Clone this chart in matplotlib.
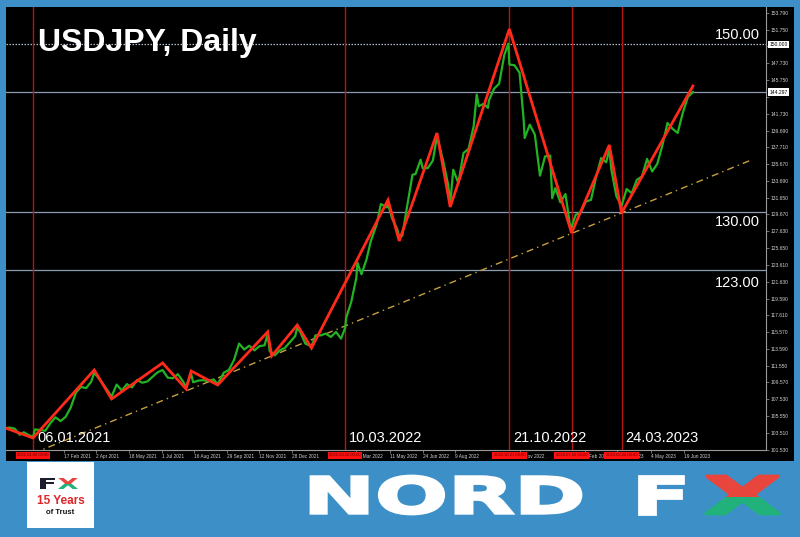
import numpy as np
import matplotlib
matplotlib.use('Agg')
import matplotlib.pyplot as plt
from matplotlib.patches import Rectangle, PathPatch
from matplotlib.textpath import TextPath
from matplotlib.font_manager import FontProperties
from matplotlib.transforms import Affine2D, blended_transform_factory

W, H = 800, 537
ORIGIN = '2021-01-06'

# weekly closes
price_dates = [
    '2020-11-27', '2020-12-04', '2020-12-11', '2020-12-18', '2020-12-24', '2020-12-31',
    '2021-01-06', '2021-01-08', '2021-01-15', '2021-01-22', '2021-01-29', '2021-02-05',
    '2021-02-12', '2021-02-19', '2021-02-26', '2021-03-05', '2021-03-12', '2021-03-19',
    '2021-03-26', '2021-03-31', '2021-04-09', '2021-04-16', '2021-04-23', '2021-04-30',
    '2021-05-07', '2021-05-14', '2021-05-21', '2021-05-28', '2021-06-04', '2021-06-11',
    '2021-06-18', '2021-06-25', '2021-07-02', '2021-07-09', '2021-07-16', '2021-07-23',
    '2021-07-30', '2021-08-04', '2021-08-11', '2021-08-13', '2021-08-20', '2021-08-27',
    '2021-09-03', '2021-09-10', '2021-09-16', '2021-09-24', '2021-10-01', '2021-10-08',
    '2021-10-15', '2021-10-22', '2021-10-29', '2021-11-05', '2021-11-12', '2021-11-19',
    '2021-11-24', '2021-11-26', '2021-11-30', '2021-12-03', '2021-12-10', '2021-12-17',
    '2021-12-24', '2021-12-31', '2022-01-04', '2022-01-07', '2022-01-14', '2022-01-24',
    '2022-01-28', '2022-02-04', '2022-02-11', '2022-02-18', '2022-02-25', '2022-03-04',
    '2022-03-10', '2022-03-11', '2022-03-18', '2022-03-25', '2022-03-28', '2022-04-01',
    '2022-04-08', '2022-04-14', '2022-04-22', '2022-04-28', '2022-05-06', '2022-05-09',
    '2022-05-13', '2022-05-20', '2022-05-24', '2022-05-27', '2022-06-03', '2022-06-10',
    '2022-06-15', '2022-06-22', '2022-06-24', '2022-07-01', '2022-07-08', '2022-07-14',
    '2022-07-22', '2022-07-29', '2022-08-02', '2022-08-05', '2022-08-12', '2022-08-19',
    '2022-08-26', '2022-09-02', '2022-09-07', '2022-09-09', '2022-09-16', '2022-09-22',
    '2022-09-23', '2022-09-30', '2022-10-07', '2022-10-14', '2022-10-20', '2022-10-21',
    '2022-10-28', '2022-11-04', '2022-11-10', '2022-11-11', '2022-11-18', '2022-11-25',
    '2022-12-02', '2022-12-09', '2022-12-16', '2022-12-20', '2022-12-23', '2022-12-30',
    '2023-01-06', '2023-01-13', '2023-01-16', '2023-01-20', '2023-01-27', '2023-02-03',
    '2023-02-10', '2023-02-17', '2023-02-24', '2023-03-03', '2023-03-08', '2023-03-10',
    '2023-03-17', '2023-03-24', '2023-03-31', '2023-04-07', '2023-04-14', '2023-04-21',
    '2023-04-28', '2023-05-05', '2023-05-12', '2023-05-19', '2023-05-26', '2023-06-02',
    '2023-06-09', '2023-06-16', '2023-06-23', '2023-06-30']
price_close = [
    104.08, 104.16, 104.04, 103.30, 103.60, 103.25,
    103.05, 103.94, 103.87, 103.78, 104.68, 105.39,
    104.94, 105.45, 106.57, 108.33, 109.03, 108.88,
    109.64, 110.72, 109.66, 108.79, 107.88, 109.31,
    108.59, 109.36, 108.96, 109.85, 109.53, 109.67,
    110.21, 110.76, 111.05, 110.14, 110.06, 110.55,
    109.69, 109.05, 110.60, 109.58, 109.78, 109.83,
    109.71, 109.93, 109.35, 110.73, 111.05, 112.24,
    114.21, 113.50, 113.95, 113.40, 113.90, 114.00,
    115.35, 113.30, 113.15, 112.80, 113.40, 113.70,
    114.40, 115.10, 116.10, 115.60, 114.20, 113.90,
    115.20, 115.20, 115.40, 115.00, 115.60, 114.80,
    116.10, 117.30, 119.20, 122.10, 123.90, 122.50,
    124.30, 126.40, 128.50, 130.90, 130.50, 130.90,
    129.20, 127.90, 127.00, 127.10, 130.80, 134.40,
    134.50, 136.20, 135.20, 135.20, 136.10, 139.00,
    136.10, 133.20, 131.00, 135.00, 133.40, 137.00,
    137.50, 140.20, 144.00, 142.60, 142.90, 142.40,
    143.30, 144.70, 145.30, 148.70, 150.10, 147.60,
    147.50, 146.60, 141.00, 138.80, 140.40, 139.20,
    134.30, 136.60, 136.70, 131.60, 132.80, 131.10,
    132.10, 127.90, 128.20, 129.60, 129.90, 131.20,
    131.40, 134.10, 136.40, 135.90, 137.50, 135.00,
    131.80, 130.70, 132.70, 132.20, 133.80, 134.20,
    136.30, 134.80, 135.70, 137.90, 140.60, 139.90,
    139.40, 141.80, 143.70, 144.30]

zig_dates = ['2020-11-30', '2021-01-06', '2021-03-31', '2021-04-23', '2021-07-02',
             '2021-08-04', '2021-08-11', '2021-09-16', '2021-11-24', '2021-11-30',
             '2022-01-04', '2022-01-24', '2022-05-09', '2022-05-24', '2022-07-14',
             '2022-08-02', '2022-10-21', '2023-01-16', '2023-03-08', '2023-03-24',
             '2023-06-30']
zig_prices = [104.11, 102.92, 111.05, 107.59, 111.89,
              108.78, 110.93, 109.26, 115.60, 112.73,
              116.43, 113.68, 131.39, 126.48, 139.40,
              130.55, 151.84, 127.44, 137.97, 129.83,
              145.02]

trend_anchor_dates = ['2021-11-30', '2023-03-24']
trend_anchor_prices = [112.73, 129.83]
trend_span = ['2021-01-06', '2023-09-20']

vline_dates = ['2021-01-06', '2022-03-10', '2022-10-21', '2023-01-16', '2023-03-24']
vline_labels = ['06.01.2021', '10.03.2022', '21.10.2022', None, '24.03.2023']

level_values = [150.0, 130.0, 123.0]
level_labels = ['150.00', '130.00', '123.00']
bid_price = 144.297

ytick_values = [101.53, 103.51, 105.55, 107.53, 109.57, 111.55, 113.59, 115.57,
                117.61, 119.59, 121.63, 123.61, 125.65, 127.63, 129.67, 131.65,
                133.69, 135.67, 137.71, 139.69, 141.73, 143.71, 145.75, 147.73,
                149.77, 151.75, 153.79]
xtick_dates = ['2021-02-17', '2021-04-02', '2021-05-18', '2021-07-01', '2021-08-16',
               '2021-09-29', '2021-11-12', '2021-12-28', '2022-03-25', '2022-05-11',
               '2022-06-24', '2022-08-09', '2022-11-04', '2023-02-02', '2023-03-20',
               '2023-05-04', '2023-06-19']
xtick_labels = ['17 Feb 2021', '2 Apr 2021', '18 May 2021', '1 Jul 2021', '16 Aug 2021',
                '29 Sep 2021', '12 Nov 2021', '28 Dec 2021', '25 Mar 2022', '11 May 2022',
                '24 Jun 2022', '9 Aug 2022', '4 Nov 2022', '2 Feb 2023', '20 Mar 2023',
                '4 May 2023', '19 Jun 2023']

BLUE = '#3c90c7'
GREEN = '#22b322'
RED = '#ff2a1a'
VRED = '#b81414'
LEVEL = '#8a9cb0'
AXIS = '#9a9a9a'

plt.rcParams['font.family'] = ['Liberation Sans', 'DejaVu Sans']


def bars(dates):
    d = np.array(dates, dtype='datetime64[D]')
    return np.busday_count(np.datetime64(ORIGIN), d)


def fig_box(x0, y0, x1, y1):
    # pixel box (y from top) -> figure fraction rect
    return [x0 / W, 1 - y1 / H, (x1 - x0) / W, (y1 - y0) / H]


def path_in_box(s, box):
    tp = TextPath((0, 0), s, size=50,
                  prop=FontProperties(family='DejaVu Sans', weight='bold'))
    e = tp.get_extents()
    x0, y0, x1, y1 = box
    tr = (Affine2D().translate(-e.x0, -e.y0)
          .scale((x1 - x0) / e.width / W, (y1 - y0) / e.height / H)
          .translate(x0 / W, 1 - y1 / H))
    return tr.transform_path(tp)


def draw_word(fig, s, box, color, lw=0):
    fig.add_artist(PathPatch(path_in_box(s, box), transform=fig.transFigure,
                             fc=color, ec=color, lw=lw))


def draw_x(fig, box, top='#e8453c', bottom='#20b27a', lw=0):
    path = path_in_box('X', box)
    x0, y0, x1, y1 = box
    ym = y0 + (y1 - y0) * 0.55
    for color, (ya, yb) in ((top, (y0 - 3, ym)), (bottom, (ym, y1 + 3))):
        l, b, w, h = fig_box(x0 - 3, ya, x1 + 3, yb)
        clip = Rectangle((l, b), w, h, transform=fig.transFigure)
        p = PathPatch(path, transform=fig.transFigure, fc=color, ec=color, lw=lw)
        p.set_clip_path(clip)
        fig.add_artist(p)


fig = plt.figure(figsize=(W / 100, H / 100), dpi=100, facecolor=BLUE)
l, b, w, h = fig_box(6, 7, 794, 461)
fig.add_artist(Rectangle((l, b), w, h, transform=fig.transFigure,
                         fc='black', ec='none', zorder=0))

ax = fig.add_axes(fig_box(6, 7, 766, 450))
ax.set_facecolor('black')
ax.set_xlim(-26.5, 718.6)
ax.set_ylim(101.48, 154.47)

for s in ['left', 'top']:
    ax.spines[s].set_visible(False)
for s in ['right', 'bottom']:
    ax.spines[s].set_color(AXIS)
    ax.spines[s].set_linewidth(0.8)

ax.yaxis.tick_right()
ax.set_yticks(ytick_values,
              ['' if v in (149.77, 143.71) else '%.3f' % v for v in ytick_values])
ax.set_xticks(bars(xtick_dates), xtick_labels)
for lab in ax.get_xticklabels():
    lab.set_ha('left')
ax.tick_params(axis='y', colors=AXIS, labelcolor='#d0d0d0', labelsize=3.6,
               length=2, width=0.5, pad=1.5)
ax.tick_params(axis='x', colors=AXIS, labelcolor='#d0d0d0', labelsize=3.4,
               length=2, width=0.5, pad=1.2)

# horizontal levels
ax.axhline(level_values[0], color='#b0bccb', lw=0.9, ls=(0, (1.2, 1.2)), zorder=1)
for v in level_values[1:]:
    ax.axhline(v, color=LEVEL, lw=0.9, zorder=1)
ax.axhline(bid_price, color=LEVEL, lw=0.9, zorder=1)

trans_lab = blended_transform_factory(ax.transAxes, ax.transData)
offsets = [6.5, -7.5, -9.5]
for v, txt, dy in zip(level_values, level_labels, offsets):
    ax.annotate(txt, xy=(0.992, v), xycoords=trans_lab, xytext=(0, dy),
                textcoords='offset points', ha='right', va='center',
                color='white', fontsize=10.5, zorder=6)

# vertical lines with dates
trans_v = blended_transform_factory(ax.transData, ax.transAxes)
for d, txt in zip(vline_dates, vline_labels):
    xb = bars([d])[0]
    ax.axvline(xb, color=VRED, lw=1, zorder=1)
    if txt:
        ax.text(xb + 4, 0.027, txt, transform=trans_v, ha='left', va='center',
                color='white', fontsize=10.5, zorder=6)
    ax.text(xb, -0.0115, d.replace('-', '.') + ' 00:00', transform=trans_v,
            ha='center', va='center', fontsize=3.0, color='#5a0000', zorder=10,
            clip_on=False,
            bbox=dict(boxstyle='square,pad=0.35', fc='#ff1010', ec='none'))

# trend line through the two lows
tx = bars(trend_anchor_dates)
slope = (trend_anchor_prices[1] - trend_anchor_prices[0]) / (tx[1] - tx[0])
sx = bars(trend_span)
sy = trend_anchor_prices[0] + slope * (sx - tx[0])
ax.plot(sx, sy, color='#c8a040', lw=1, ls=(0, (5, 3, 1, 3)), zorder=2)

ax.plot(bars(price_dates), price_close, color=GREEN, lw=1.6, zorder=3)
ax.plot(bars(zig_dates), zig_prices, color=RED, lw=2, zorder=4,
        solid_joinstyle='miter')

# price tags on the scale
for v in [150.0, bid_price]:
    ax.annotate('%.3f' % v, xy=(1, v), xycoords=trans_lab, xytext=(2.5, 0),
                textcoords='offset points', ha='left', va='center', fontsize=3.6,
                color='black', zorder=10, annotation_clip=False,
                bbox=dict(boxstyle='square,pad=0.25', fc='white', ec='none'))

fig.text(38 / W, 1 - 43 / H, 'USDJPY, Daily', color='white', fontsize=23,
         fontweight='bold', ha='left', va='center')

# banner
l, b, w, h = fig_box(27, 462, 94, 528)
fig.add_artist(Rectangle((l, b), w, h, transform=fig.transFigure,
                         fc='white', ec='none'))
draw_word(fig, 'F', (40, 478, 55, 489), '#1d1d2b')
draw_x(fig, (58, 478, 78, 489), top='#e8453c', bottom='#20b27a')
fig.text(60.5 / W, 1 - 501 / H, '15 Years', color='#e0262b', fontsize=8.5,
         fontweight='bold', ha='center', va='center')
fig.text(60.5 / W, 1 - 513 / H, 'of Trust', color='#111111', fontsize=5.5,
         fontweight='bold', ha='center', va='center')

draw_word(fig, 'NORD', (311, 476, 581, 514), 'white', lw=2)
draw_word(fig, 'F', (639, 476, 683, 514), 'white', lw=2)
draw_x(fig, (705, 476, 780, 514), lw=2)

fig.savefig('out.png', dpi=100, facecolor=BLUE)
